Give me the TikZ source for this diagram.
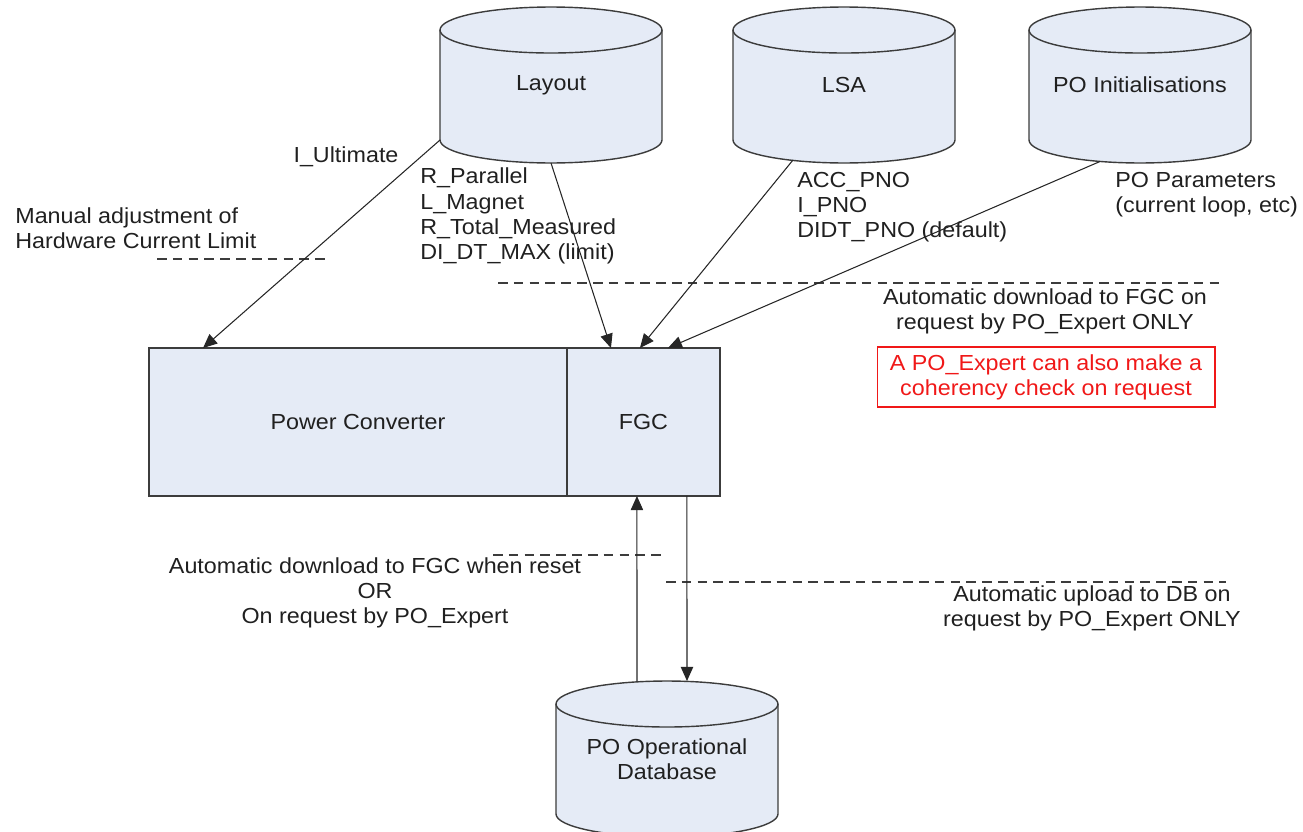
\documentclass[tikz,border=0pt]{standalone}
\usepackage{fontspec}
\setmainfont{Liberation Sans}[FakeStretch=1.07]
\usepackage{tikz}
\usetikzlibrary{arrows.meta, backgrounds, positioning}
\tikzset{>={Stealth[length=8pt, width=7pt, inset=0pt]}}
\definecolor{boxfill}{HTML}{E5EBF6}
\definecolor{linegray}{HTML}{3C3C3C}
\definecolor{txtgray}{HTML}{202020}
\definecolor{warnred}{HTML}{F01818}
\newcommand{\lblfont}{\fontsize{12.4}{14.3}\selectfont}

\begin{document}
\begin{tikzpicture}[x=0.02cm, y=-0.02cm,
	db/.style={rectangle, minimum width=4.44cm, minimum height=3.12cm, inner sep=0pt,
		outer sep=0pt, text=txtgray, font=\lblfont, align=center},
	dbshape/.style={draw=linegray, fill=boxfill, line width=0.8pt},
	unit/.style={rectangle, draw=linegray, fill=boxfill, line width=0.8pt, minimum height=2.96cm,
		inner sep=0pt, outer sep=0pt, text=txtgray, font=\lblfont},
	lbl/.style={text=txtgray, font=\lblfont, inner sep=0pt},
	conn/.style={->, line width=0.6pt, draw=black!85},
	sep/.style={line width=0.6pt, draw=linegray, dash pattern=on 5.5pt off 3.5pt}]
	\useasboundingbox (0,0) rectangle (1303,832);

	% data sources
	\node[db]	(layout)	at	(551,85)	{Layout};
	\node[db]	(lsa)		at	(844,85)	{LSA};
	\node[db]	(poinit)	at	(1140,85)	{PO Initialisations};
	\node[db]	(opdb)		at	(667,759)	{PO Operational\\Database};

	% cylinders behind the data sources
	\begin{scope}[on background layer]
		\foreach \db in {layout, lsa, poinit, opdb} {
			\path[dbshape] ([yshift=-0.46cm]\db.north west) -- ([yshift=0.46cm]\db.south west)
				arc[start angle=180, end angle=360, x radius=2.22cm, y radius=0.46cm]
				-- ([yshift=-0.46cm]\db.north east)
				arc[start angle=0, end angle=180, x radius=2.22cm, y radius=0.46cm] -- cycle;
			\draw[dbshape, fill=none] ([yshift=-0.46cm]\db.north west)
				arc[start angle=180, end angle=360, x radius=2.22cm, y radius=0.46cm];
		}
	\end{scope}

	% converter and its controller
	\node[unit, minimum width=8.36cm]	(pc)	at	(358,422)	{Power Converter};
	\node[unit, minimum width=3.06cm, right=0pt of pc]	(fgc)	{FGC};

	% texts
	\node[lbl, anchor=west, align=left]	(manual)	at	(15,228)	{Manual adjustment of\\Hardware Current Limit};
	\node[lbl]	(iult)	at	(346,157)	{I\_Ultimate};
	\node[lbl, anchor=west, align=left]	(layoutpar)	at	(420,216)	{R\_Parallel\\L\_Magnet\\R\_Total\_Measured\\DI\_DT\_MAX (limit)};
	\node[lbl, anchor=west, align=left]	(lsapar)	at	(797,207)	{ACC\_PNO\\I\_PNO\\DIDT\_PNO (default)};
	\node[lbl, anchor=west, align=left]	(initpar)	at	(1115,195)	{PO Parameters\\(current loop, etc)};
	\node[lbl, align=center]	(dlexpert)	at	(1045,311)	{Automatic download to FGC on\\request by PO\_Expert ONLY};
	\node[lbl, align=center, text=warnred, draw=warnred, line width=0.6pt,
		minimum width=6.76cm, minimum height=1.2cm]	(check)	at	(1046,377)	{A PO\_Expert can also make a\\coherency check on request};
	\node[lbl, align=center]	(dlreset)	at	(375,593)	{Automatic download to FGC when reset\\OR\\On request by PO\_Expert};
	\node[lbl, align=center]	(upload)	at	(1092,608)	{Automatic upload to DB on\\request by PO\_Expert ONLY};

	% separators
	\draw[sep] (157,259) -- (327,259);
	\draw[sep] (498,283) -- (1222,283);
	\draw[sep] (493,555) -- (662,555);
	\draw[sep] (666,582) -- (1226,582);

	% downloads
	\draw[conn] ([yshift=0.46cm]layout.south west) -- ([xshift=1.08cm]pc.north west);
	\draw[conn] (layout.south) -- ([xshift=-0.65cm]fgc.north);
	\draw[conn] ([xshift=-1.02cm, yshift=0.06cm]lsa.south) -- ([xshift=-0.07cm]fgc.north);
	\draw[conn] ([xshift=-0.8cm, yshift=0.03cm]poinit.south) -- ([xshift=0.49cm]fgc.north);
	\draw[conn] ([xshift=-0.6cm]opdb.north) -- ([xshift=-0.13cm]fgc.south);
	\draw[conn] ([xshift=0.87cm]fgc.south) -- ([xshift=0.4cm]opdb.north);
\end{tikzpicture}
\end{document}
